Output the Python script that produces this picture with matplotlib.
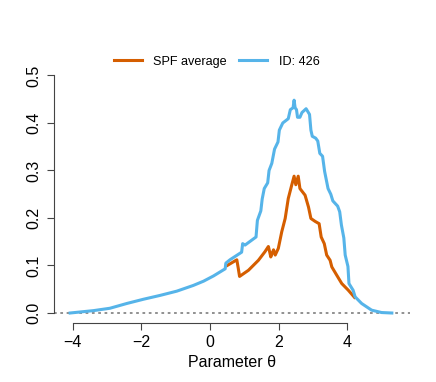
import matplotlib
matplotlib.use("Agg")
import matplotlib.pyplot as plt

plt.rcParams['font.family'] = ['Liberation Sans', 'DejaVu Sans']

# ID: 426 の曲線
blue_theta = [-4.08, -3.40, -2.92, -2.43, -1.94, -1.46, -0.97, -0.49, -0.19, 0.10,
              0.44, 0.46, 0.58, 0.92, 0.95, 1.02, 1.34, 1.38, 1.48, 1.52,
              1.58, 1.68, 1.72, 1.80, 1.88, 1.98, 2.02, 2.12, 2.28, 2.34,
              2.42, 2.45, 2.48, 2.52, 2.55, 2.62, 2.68, 2.80, 2.90, 2.94,
              2.98, 3.08, 3.14, 3.20, 3.28, 3.34, 3.44, 3.52, 3.58, 3.72,
              3.78, 3.83, 3.90, 3.94, 4.02, 4.05, 4.17, 4.23, 4.42, 4.71,
              5.00, 5.30]
blue_val = [0.000, 0.005, 0.010, 0.020, 0.029, 0.037, 0.046, 0.058, 0.067, 0.078,
            0.093, 0.105, 0.112, 0.128, 0.146, 0.143, 0.160, 0.195, 0.215, 0.240,
            0.262, 0.274, 0.300, 0.315, 0.345, 0.360, 0.385, 0.400, 0.409, 0.428,
            0.432, 0.448, 0.432, 0.428, 0.412, 0.412, 0.422, 0.430, 0.418, 0.385,
            0.372, 0.368, 0.362, 0.336, 0.330, 0.298, 0.262, 0.250, 0.236, 0.225,
            0.213, 0.185, 0.158, 0.122, 0.098, 0.062, 0.048, 0.034, 0.020, 0.006,
            0.001, 0.000]

# SPF average の曲線
spf_theta = [0.50, 0.78, 0.82, 0.86, 1.12, 1.41, 1.60, 1.70, 1.74, 1.77,
             1.85, 1.90, 1.99, 2.09, 2.19, 2.28, 2.38, 2.45, 2.50, 2.57,
             2.62, 2.77, 2.87, 2.94, 3.06, 3.18, 3.24, 3.33, 3.40, 3.50,
             3.55, 3.69, 3.84, 4.03, 4.21]
spf_val = [0.100, 0.112, 0.095, 0.077, 0.090, 0.111, 0.129, 0.140, 0.128, 0.118,
           0.133, 0.122, 0.136, 0.171, 0.199, 0.241, 0.269, 0.288, 0.270, 0.288,
           0.262, 0.248, 0.223, 0.199, 0.193, 0.188, 0.160, 0.146, 0.122, 0.111,
           0.097, 0.080, 0.062, 0.048, 0.033]

x_ticks = [-4, -2, 0, 2, 4]
y_ticks = [0.0, 0.1, 0.2, 0.3, 0.4, 0.5]

fig = plt.figure(figsize=(4.36, 3.82), dpi=100)
ax = fig.add_axes([0.1239, 0.1545, 0.8165, 0.6728])

ax.axhline(0, color='#888888', lw=1.3, ls=(0, (1.5, 2)), zorder=1)
ax.plot(spf_theta, spf_val, color='#D55E00', lw=2.2, label='SPF average', zorder=2)
ax.plot(blue_theta, blue_val, color='#56B4E9', lw=2.2, label='ID: 426', zorder=3)

ax.set_xlim(-4.55, 5.83)
ax.set_ylim(-0.021, 0.52)

for s in ['top', 'right']:
    ax.spines[s].set_visible(False)
ax.spines['left'].set_bounds(0, 0.5)
ax.spines['bottom'].set_bounds(-4, 4)
for s in ['left', 'bottom']:
    ax.spines[s].set_color('#444444')
    ax.spines[s].set_linewidth(0.8)

ax.set_xticks(x_ticks)
ax.set_xticklabels(['\u22124', '\u22122', '0', '2', '4'])
ax.set_yticks(y_ticks)
ax.set_yticklabels([f"{v:.1f}" for v in y_ticks], rotation=90, va='center')
ax.tick_params(axis='both', length=5, width=0.8, color='#444444', labelsize=11.5, pad=4)

ax.set_xlabel('Parameter \u03b8', fontsize=11.5, labelpad=3)

fig.legend(loc='center', bbox_to_anchor=(0.497, 0.838), ncol=2, frameon=False,
           fontsize=9.1, handlelength=2.2, handletextpad=0.9, columnspacing=1.0)

fig.savefig('out.png', dpi=100)
